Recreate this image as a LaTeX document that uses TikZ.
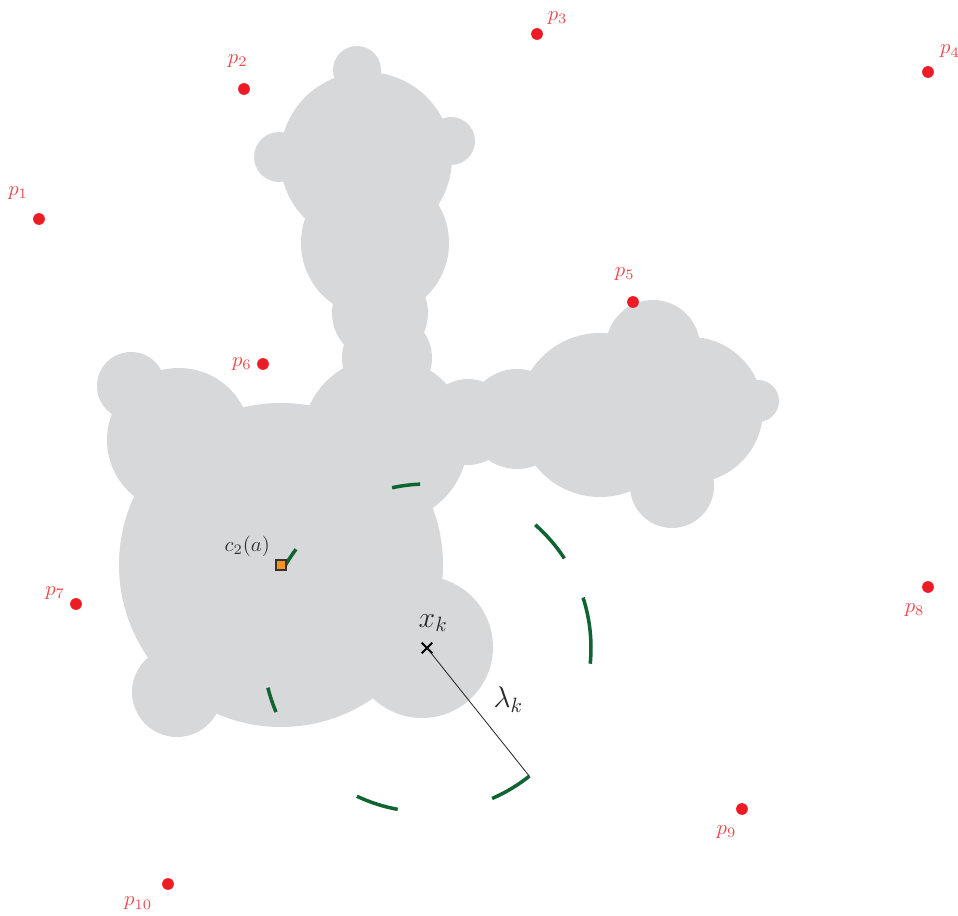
\documentclass[tikz,border=0pt]{standalone}
\usepackage{amsmath}
\usepackage{amssymb}
\usetikzlibrary{shapes.misc}
\definecolor{blobgray}{RGB}{215,216,218}
\definecolor{ptred}{RGB}{237,28,36}
\definecolor{lblred}{RGB}{238,72,78}
\definecolor{ballgreen}{RGB}{16,100,50}
\definecolor{sqorange}{RGB}{247,148,29}

\begin{document}
\begin{tikzpicture}[x=0.017cm,y=0.017cm,semithick,
		pt/.style={circle,fill=ptred,inner sep=0pt,minimum size=0.2cm},
		lbl/.style={text=lblred,inner sep=1pt},
		kdash/.style={ballgreen,line width=1.7pt}]
		\tikzstyle{every label}=[lbl,label distance=2pt]
		\useasboundingbox (0,0) rectangle (958,916);
		
		% union of balls
		\foreach \cx/\cy/\r in {357/846/24, 366/758/86, 279/759/25, 451/775/24,
			375/673/74, 380/603/48, 387/558/45, 385/476/83,
			281/351/162, 179/476/72, 131/530/34, 177/224/45, 422/269/71,
			468/494/43, 517/497/50, 600/501/82, 653/569/47, 690/506/73,
			758/515/21, 672/430/42}
		\fill[blobgray] (\cx,\cy) circle[radius=\r];
		
		% sample points
		\node[pt,label={[label distance=6pt]116:$p_1$}] (p1) at (39,697) {};
		\node[pt,label={[label distance=6pt,xshift=-3pt]90:$p_2$}] (p2) at (244,827) {};
		\node[pt,label={40:$p_3$}] (p3) at (537,882) {};
		\node[pt,label={[label distance=4pt]50:$p_4$}] (p4) at (928,844) {};
		\node[pt,label={[label distance=6pt,xshift=-4pt]90:$p_5$}] (p5) at (633,614) {};
		\node[pt,label={[label distance=1pt]180:$p_6$}] (p6) at (263,552) {};
		\node[pt,label={[label distance=1pt]166:$p_7$}] (p7) at (76,312) {};
		\node[pt,label={[label distance=4pt,xshift=2.5pt]246:$p_8$}] (p8) at (928,329) {};
		\node[pt,label={[label distance=4pt,xshift=1.5pt]246:$p_9$}] (p9) at (742,107) {};
		\node[pt,label={[label distance=5pt]218:$p_{10}$}] (p10) at (168,32) {};
		
		% ball around x_k
		\node[cross out,draw=black,line width=0.9pt,inner sep=0pt,minimum size=0.15cm,
			label={[text=black!85,inner sep=2pt,label distance=3pt,xshift=3pt]90:\Large$x_k$}] (xk) at (427,268) {};
		\foreach \a/\b in {-66.6/-51.4, -115.3/-100.3, -166/-157, 143/151,
			92.4/102.3, 33.1/48.7, -5.5/17.9}
		\draw[kdash] (xk.center) ++(\a:164) arc[start angle=\a,end angle=\b,radius=164];
		\path (xk.center) ++(-51.4:164) coordinate (rk);
		\draw[thin,black!85] (xk.center) -- node[midway,anchor=west,xshift=4pt,yshift=6pt,
			text=black!85] {\Large$\lambda_k$} (rk);
		
		% centre
		\node[draw=black!80,fill=sqorange,line width=1pt,inner sep=0pt,minimum size=0.18cm,
			label={[text=black!80,inner sep=2pt,label distance=0pt]148:$c_2(a)$}] (c2) at (281,351) {};
		\end{tikzpicture}
\end{document}
